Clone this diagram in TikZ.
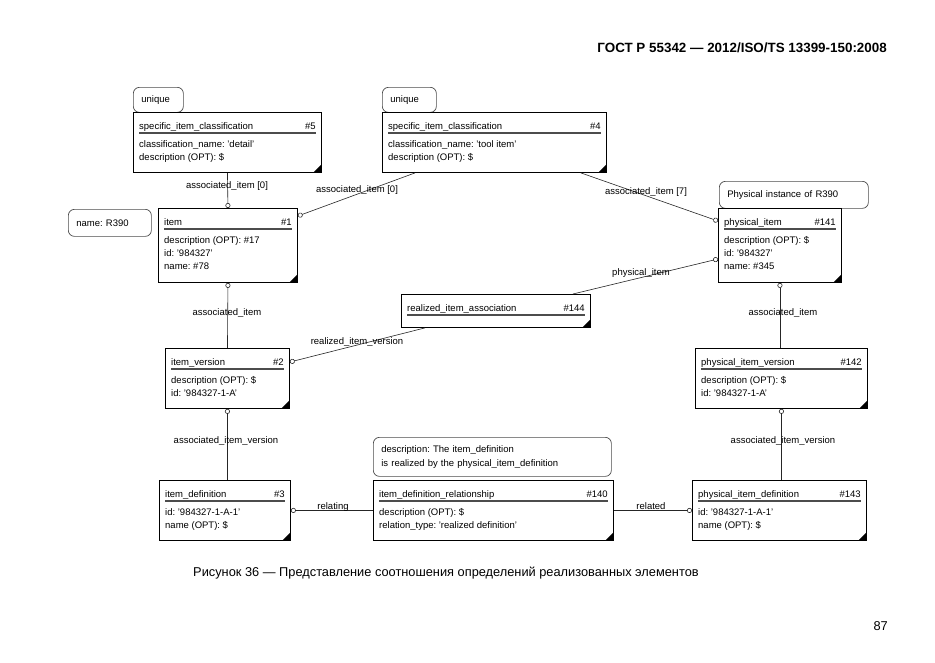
\documentclass[tikz,border=0pt]{standalone}
\usepackage{fontspec}
\setmainfont{Liberation Sans}
\usetikzlibrary{arrows.meta,calc}
\frenchspacing

\tikzset{
  ent/.style={draw=black, line width=0.9pt, fill=white, rectangle, inner sep=0pt},
  note/.style={draw=black!70, line width=0.7pt, rounded corners=6pt, fill=white, rectangle,
    inner xsep=8pt, inner ysep=0pt, align=left, font=\fontsize{9.5}{14}\selectfont, text=black},
  txt/.style={inner sep=0pt, font=\fontsize{9.5}{11}\selectfont, text=black},
  lbl/.style={inner sep=0.5pt, font=\fontsize{9.5}{11}\selectfont, text=black},
  conn/.style={line width=0.6pt, draw=black!85},
  ref/.style={conn, -{Circle[open,length=5pt,width=5pt,line width=0.6pt]}},
  titlerule/.style={draw=black!70, line width=1.3pt},
}

\newcommand\entity[8]{%
  \node[ent, minimum width=#4, minimum height=#5, anchor=north west] (#1) at (#2,#3) {};
  \node[txt, anchor=base west] (#1-t) at ([xshift=6, yshift=-17]#1.north west) {#6};
  \node[txt, anchor=base east] (#1-n) at ([xshift=-6, yshift=-17]#1.north east) {#7};
  \draw[titlerule] ([xshift=6, yshift=-21]#1.north west) -- ([xshift=-6, yshift=-21]#1.north east);
  \fill ([xshift=-0.5pt, yshift=0.5pt]#1.south east) -- ++(-8,0) -- ++(8,-8) -- cycle;
  \foreach \t [count=\i] in {#8} {
    \node[txt, anchor=base west] (#1-a\i) at ([xshift=6, yshift={-22-13*\i}]#1.north west) {\t};
  }
}

\begin{document}
\begin{tikzpicture}[x=1pt, y=-1pt]
\fill[white] (0,0) rectangle (935,662);
\useasboundingbox (0,0) rectangle (935,662);

% header, caption, page number
\node[font=\bfseries\fontsize{13.4}{15}\selectfont, anchor=base east, inner sep=0pt] (hdr) at (887,52)
  {ГОСТ Р 55342 — 2012/ISO/TS 13399-150:2008};
\node[font=\fontsize{12.8}{14}\selectfont, anchor=base, inner sep=0pt] (cap) at (446,576)
  {Рисунок 36 — Представление соотношения определений реализованных элементов};
\node[font=\fontsize{12.8}{14}\selectfont, anchor=base east, inner sep=0pt] (pg) at (888,630) {87};

% notes
\node[note, text width=34, minimum height=25, anchor=north west] (u5) at (133,87) {unique};
\node[note, text width=38, minimum height=25, anchor=north west] (u4) at (382,87) {unique};
\node[note, text width=67, minimum height=27, anchor=north west] (nm) at (68,209) {name: R390};
\node[note, text width=133, minimum height=27, anchor=north west] (pinote) at (719,181) {Physical instance of R390};
\node[note, text width=222, minimum height=39, anchor=north west] (dnote) at (373,437)
  {description: The item\_definition\\is realized by the physical\_item\_definition};

% entities
\entity{c5}{133}{112}{188}{60}{specific\_item\_classification}{\#5}{classification\_name: 'detail', description (OPT): \$}
\entity{c4}{382}{112}{224}{60}{specific\_item\_classification}{\#4}{classification\_name: 'tool item', description (OPT): \$}
\entity{item}{158}{208}{139}{74}{item}{\#1}{description (OPT): \#17, id: '984327', name: \#78}
\entity{pi}{718}{208}{123}{74}{physical\_item}{\#141}{description (OPT): \$, id: '984327', name: \#345}
\entity{ria}{401}{294}{189}{33}{realized\_item\_association}{\#144}{}
\entity{iv}{165}{348}{124}{60}{item\_version}{\#2}{description (OPT): \$, id: '984327-1-A'}
\entity{piv}{695}{348}{172}{60}{physical\_item\_version}{\#142}{description (OPT): \$, id: '984327-1-A'}
\entity{idf}{159}{480}{131}{60}{item\_definition}{\#3}{id: '984327-1-A-1', name (OPT): \$}
\entity{rel}{373}{480}{240}{60}{item\_definition\_relationship}{\#140}{description (OPT): \$, relation\_type: 'realized definition'}
\entity{pid}{692}{480}{174}{60}{physical\_item\_definition}{\#143}{id: '984327-1-A-1', name (OPT): \$}

% connectors
\draw[ref] (c5.south) -- (item.north);
\node[lbl] (l1) at (227,186) {associated\_item [0]};
\draw[ref] ($(c4.south west)+(33,0)$) -- ([yshift=-8]item.north east);
\node[lbl] (l2) at (357,190) {associated\_item [0]};
\draw[ref] ($(c4.south east)+(-26,0)$) -- ([yshift=-13]pi.north west);
\node[lbl] (l3) at (646,192) {associated\_item [7]};
\draw[ref] ($(ria.north east)+(-18,0)$) -- ([yshift=-51]pi.north west);
\node[lbl] (l4) at (641,273) {physical\_item};
\draw[ref] ($(ria.south west)+(24,0)$) -- ([yshift=-14]iv.north east);
\node[lbl] (l5) at (357,342) {realized\_item\_version};
\draw[ref] (iv.north) -- (item.south);
\node[lbl] (l6) at (227,313) {associated\_item};
\draw[ref] (idf.north -| iv.south) -- (iv.south);
\node[lbl] (l7) at (226,441) {associated\_item\_version};
\draw[ref] (piv.north -| pi.south) -- (pi.south);
\node[lbl] (l8) at (783,313) {associated\_item};
\draw[ref] (pid.north -| piv.south) -- (piv.south);
\node[lbl] (l9) at (783,441) {associated\_item\_version};
\draw[ref] (rel.west) -- (idf.east);
\node[lbl, anchor=base] (l10) at (333,509) {relating};
\draw[ref] (rel.east) -- (pid.west);
\node[lbl, anchor=base] (l11) at (651,509) {related};
\end{tikzpicture}
\end{document}
